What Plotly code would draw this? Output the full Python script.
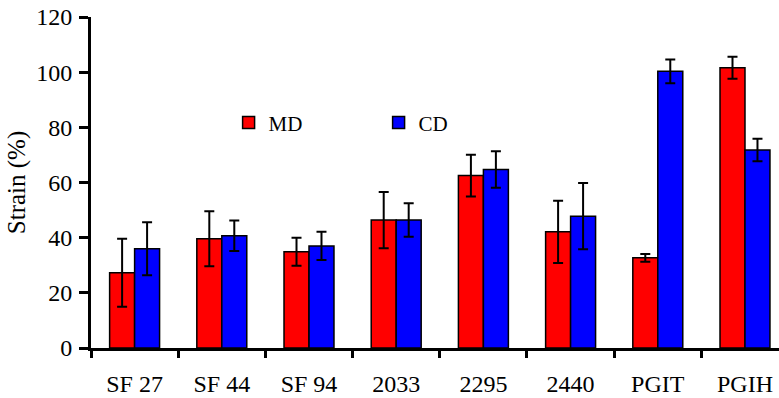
import plotly.graph_objects as go

# Sample names along the x axis
samples = ["SF 27", "SF 44", "SF 94", "2033", "2295", "2440", "PGIT", "PGIH"]

# Mean strain at break (%) and standard deviations
md_strain = [27.3, 39.6, 34.9, 46.4, 62.5, 42.1, 32.7, 101.6]
md_sd = [12.3, 10.0, 5.1, 10.2, 7.6, 11.3, 1.4, 4.0]
cd_strain = [36.0, 40.7, 37.0, 46.4, 64.7, 47.8, 100.3, 71.8]
cd_sd = [9.6, 5.5, 5.1, 6.1, 6.6, 12.0, 4.3, 4.1]

y_ticks = [0, 20, 40, 60, 80, 100, 120]

FONT = "Liberation Serif"

def err(vals):
    return dict(type="data", array=vals, visible=True,
                color="black", thickness=2, width=5)

fig = go.Figure()
fig.add_trace(go.Bar(
    name="MD", x=samples, y=md_strain, error_y=err(md_sd),
    marker=dict(color="#FF0000", line=dict(color="black", width=1.5)),
))
fig.add_trace(go.Bar(
    name="CD", x=samples, y=cd_strain, error_y=err(cd_sd),
    marker=dict(color="#0000FF", line=dict(color="black", width=1.5)),
))

fig.update_layout(
    width=779, height=398,
    margin=dict(l=91, r=0, t=17, b=50, autoexpand=False),
    paper_bgcolor="white", plot_bgcolor="white",
    barmode="group", bargap=0.427, bargroupgap=0,
    font=dict(family=FONT, color="black", size=24),
    showlegend=True,
    legend=dict(
        orientation="h", x=0.2, y=0.68, xanchor="left", yanchor="middle",
        font=dict(size=21, family=FONT),
        bgcolor="rgba(0,0,0,0)",
        entrywidth=105, entrywidthmode="pixels",
        traceorder="normal",
    ),
)

fig.update_xaxes(
    type="category", range=[-0.5, 7.39], automargin=False,
    showline=True, linecolor="black", linewidth=3,
    ticks="outside", tickson="boundaries", ticklen=7, tickwidth=3,
    tickcolor="black", ticklabelstandoff=12,
    tickfont=dict(size=24, family=FONT),
    showgrid=False, zeroline=False,
)
fig.update_yaxes(
    range=[0, 120], tickvals=y_ticks, automargin=False,
    showline=True, linecolor="black", linewidth=3,
    ticks="outside", ticklen=9, tickwidth=3, tickcolor="black",
    tickfont=dict(size=24, family=FONT), ticklabelstandoff=2,
    showgrid=False, zeroline=False,
    title=dict(text="Strain (%)", font=dict(size=25, family=FONT), standoff=4),
)

fig.write_html("out.html")
